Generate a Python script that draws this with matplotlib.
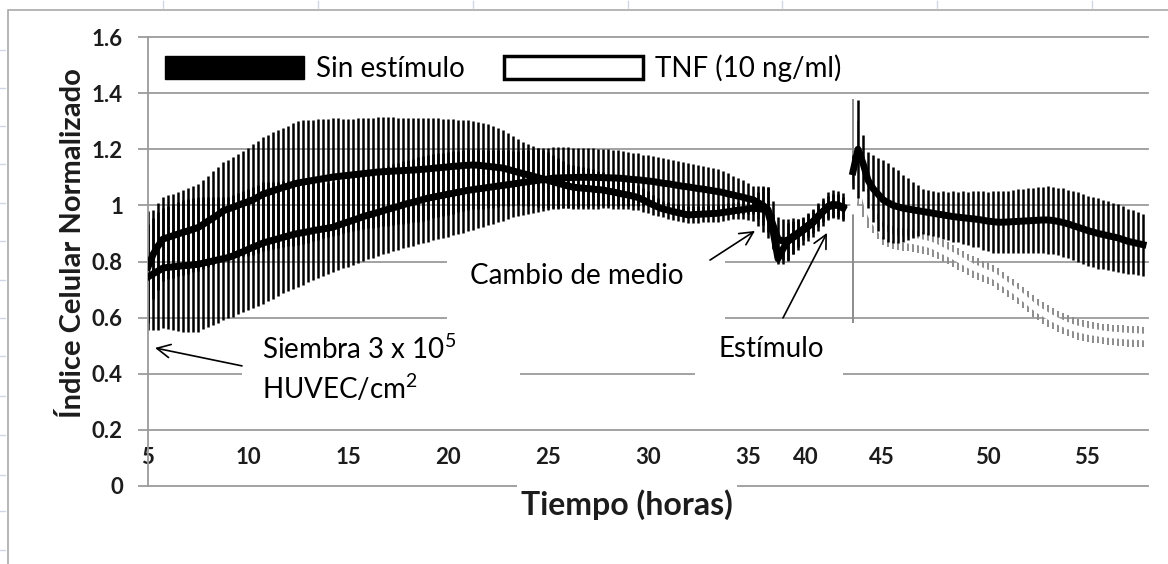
import numpy as np
import matplotlib
matplotlib.use("Agg")
import matplotlib.pyplot as plt
from matplotlib.patches import Rectangle, Patch
from matplotlib.lines import Line2D

plt.rcParams['font.family'] = ['Lato', 'DejaVu Sans']
plt.rcParams['mathtext.default'] = 'regular'

# ---------------- data ----------------
# measurement grid, hours (every 15 min)
t_pre = np.arange(5.0, 39.76, 0.25)
t_post = np.arange(40.25, 54.76, 0.25)

# before stimulus: two wells (both drawn black)
pre_a_mean = [0.78, 0.825, 0.855, 0.88, 0.886, 0.892, 0.898, 0.904, 0.909, 0.915, 0.921,
              0.932, 0.944, 0.955, 0.967, 0.98,
              0.987, 0.993, 1.0, 1.007, 1.013, 1.02,
              1.03, 1.04,
              1.046, 1.052, 1.058, 1.064, 1.069, 1.075, 1.08,
              1.083, 1.086, 1.089, 1.092, 1.095, 1.098, 1.101,
              1.103, 1.105, 1.107, 1.109, 1.111, 1.113, 1.115, 1.117, 1.119, 1.12,
              1.121, 1.122, 1.123, 1.124, 1.125, 1.126, 1.127, 1.129, 1.13,
              1.132, 1.134, 1.135, 1.137, 1.139, 1.14, 1.142, 1.143, 1.144,
              1.143, 1.141, 1.139, 1.137, 1.135, 1.133,
              1.128, 1.123, 1.118, 1.113, 1.109, 1.104, 1.099,
              1.094, 1.089, 1.084, 1.079, 1.074, 1.069, 1.065,
              1.063, 1.061, 1.06, 1.058, 1.056, 1.055,
              1.051, 1.048, 1.044, 1.04, 1.037, 1.033,
              1.028, 1.02, 1.011, 1.002, 0.994,
              0.987, 0.983, 0.978, 0.974, 0.97, 0.966,
              0.967, 0.968, 0.969, 0.97, 0.971, 0.972,
              0.975, 0.977, 0.98, 0.983, 0.985, 0.988, 0.99,
              0.988, 0.986, 0.975, 0.91, 0.81,
              0.845, 0.872, 0.885, 0.897, 0.91, 0.924, 0.938, 0.958, 0.977, 0.997, 1.004, 1.001, 0.994]
pre_a_sd = [0.20, 0.16, 0.155, 0.15, 0.15, 0.15, 0.15, 0.152, 0.153, 0.154, 0.155,
            0.158, 0.162, 0.166, 0.17, 0.173, 0.175,
            0.179, 0.184, 0.188, 0.193, 0.197, 0.2, 0.203,
            0.205, 0.208, 0.21, 0.213, 0.215, 0.218, 0.22,
            0.22, 0.219, 0.217, 0.215, 0.213, 0.211,
            0.209, 0.207, 0.204, 0.202, 0.2, 0.199, 0.198,
            0.197, 0.196, 0.195, 0.194, 0.193, 0.192, 0.19,
            0.189, 0.188, 0.187, 0.186, 0.183, 0.181,
            0.178, 0.176, 0.173, 0.171, 0.168, 0.165, 0.163, 0.16,
            0.158, 0.155, 0.153, 0.15, 0.145, 0.14, 0.134, 0.129, 0.124, 0.118,
            0.114, 0.111, 0.108, 0.105, 0.102, 0.1, 0.095,
            0.09, 0.085, 0.08, 0.078, 0.076, 0.074, 0.072, 0.07, 0.068, 0.065, 0.062, 0.06, 0.057,
            0.054, 0.051, 0.048, 0.045, 0.042, 0.039, 0.036,
            0.033, 0.03, 0.03, 0.03, 0.03, 0.03, 0.03,
            0.03, 0.03, 0.03, 0.03, 0.03, 0.03,
            0.03, 0.03, 0.03, 0.03, 0.035, 0.04, 0.045,
            0.06, 0.08, 0.09, 0.06, 0.02,
            0.04, 0.065, 0.06, 0.055, 0.05, 0.05, 0.05, 0.05, 0.05, 0.05, 0.05, 0.05, 0.05]
pre_b_mean = [0.745, 0.756, 0.766, 0.777, 0.779, 0.781, 0.783, 0.785, 0.786, 0.788, 0.79,
              0.794, 0.798, 0.802, 0.806, 0.81, 0.814,
              0.82, 0.828, 0.835, 0.843, 0.851, 0.858, 0.866,
              0.871, 0.876, 0.881, 0.886, 0.891, 0.896, 0.90,
              0.903, 0.906, 0.91, 0.913, 0.916, 0.919,
              0.922, 0.929, 0.935, 0.941, 0.947, 0.953, 0.96,
              0.965, 0.97, 0.975, 0.981, 0.986, 0.991, 0.996,
              1.002, 1.007, 1.011, 1.016, 1.021, 1.026,
              1.029, 1.033, 1.036, 1.04, 1.043, 1.047, 1.05, 1.054,
              1.056, 1.059, 1.061, 1.064, 1.066, 1.069, 1.071, 1.074, 1.076, 1.079,
              1.082, 1.084, 1.087, 1.089, 1.092, 1.094, 1.097,
              1.098, 1.098, 1.099, 1.099, 1.1, 1.1, 1.1, 1.1, 1.099, 1.099, 1.098, 1.098, 1.097,
              1.096, 1.094, 1.092, 1.091, 1.089, 1.087, 1.085,
              1.082, 1.079, 1.077, 1.074, 1.071, 1.068, 1.066,
              1.063, 1.06, 1.058, 1.055, 1.052, 1.049,
              1.046, 1.041, 1.037, 1.033, 1.029, 1.024, 1.02,
              1.01, 1.0, 0.985, 0.93, 0.88,
              0.872, 0.877, 0.89, 0.902, 0.915, 0.929, 0.943, 0.962, 0.979, 0.994, 1.0, 1.0, 0.99]
pre_b_sd = [0.19, 0.20, 0.21, 0.215, 0.22, 0.225, 0.23, 0.235, 0.238, 0.24, 0.24,
            0.236, 0.232, 0.228, 0.224, 0.22, 0.217,
            0.216, 0.216, 0.216, 0.216, 0.216, 0.216, 0.216,
            0.212, 0.208, 0.204, 0.2, 0.197, 0.193, 0.19,
            0.185, 0.18, 0.176, 0.171, 0.167, 0.162,
            0.16, 0.16, 0.159, 0.159, 0.158, 0.158, 0.158,
            0.157, 0.157, 0.156, 0.156, 0.156, 0.155, 0.155,
            0.155, 0.155, 0.155, 0.155, 0.155, 0.155,
            0.154, 0.153, 0.152, 0.151, 0.149, 0.148, 0.147, 0.146,
            0.144, 0.141, 0.138, 0.135, 0.132, 0.129, 0.126, 0.123, 0.119, 0.116,
            0.115, 0.115, 0.114, 0.114, 0.113, 0.112, 0.11,
            0.11, 0.109, 0.108, 0.107, 0.106, 0.106, 0.105, 0.104, 0.103, 0.102, 0.102, 0.101, 0.10,
            0.098, 0.097, 0.095, 0.094, 0.092, 0.091, 0.09,
            0.089, 0.089, 0.088, 0.087, 0.086, 0.086, 0.085,
            0.084, 0.083, 0.083, 0.082, 0.081, 0.08,
            0.077, 0.073, 0.069, 0.065, 0.06, 0.055, 0.05,
            0.06, 0.07, 0.08, 0.085, 0.08,
            0.08, 0.075, 0.065, 0.05, 0.04, 0.04, 0.04, 0.04, 0.04, 0.04, 0.04, 0.04, 0.04]

# after stimulus
sin_mean = [1.12, 1.20, 1.15, 1.09, 1.06, 1.04,
            1.02, 1.01, 1.0, 0.995, 0.99, 0.987,
            0.984, 0.981, 0.978, 0.975, 0.972, 0.969, 0.966, 0.963,
            0.96, 0.958, 0.956, 0.954, 0.952, 0.95, 0.947, 0.944, 0.942, 0.94,
            0.94, 0.941, 0.942, 0.943, 0.944, 0.945, 0.946, 0.947, 0.948, 0.948,
            0.946, 0.943, 0.939, 0.934, 0.928, 0.922, 0.916, 0.91, 0.905, 0.90,
            0.896, 0.892, 0.888, 0.884, 0.878, 0.872, 0.868, 0.864, 0.86]
sin_sd = [0.06, 0.175, 0.10, 0.10, 0.12, 0.13,
          0.14, 0.14, 0.135, 0.13, 0.12, 0.11,
          0.10, 0.09, 0.08, 0.08, 0.08, 0.08, 0.085, 0.085,
          0.09, 0.09, 0.095, 0.095, 0.10, 0.10, 0.105, 0.105, 0.11, 0.11,
          0.11, 0.112, 0.112, 0.114, 0.114, 0.116, 0.116, 0.118, 0.118, 0.12,
          0.12, 0.12, 0.122, 0.122, 0.124, 0.124, 0.125, 0.125, 0.125, 0.125,
          0.124, 0.123, 0.122, 0.12, 0.118, 0.116, 0.114, 0.112, 0.11]
tnf_mean = [0.98, 1.15, 1.06, 0.99, 0.95, 0.925,
            0.90, 0.89, 0.885, 0.88, 0.878, 0.876,
            0.874, 0.87, 0.866, 0.862, 0.856, 0.847, 0.838, 0.829,
            0.82, 0.81, 0.80, 0.79, 0.78, 0.773, 0.765, 0.758, 0.75, 0.738,
            0.725, 0.712, 0.70, 0.687, 0.672, 0.657, 0.642, 0.628, 0.617, 0.606,
            0.596, 0.587, 0.579, 0.571, 0.564, 0.559, 0.555, 0.551, 0.548, 0.545,
            0.542, 0.54, 0.538, 0.537, 0.535, 0.534, 0.533, 0.532, 0.531]
tnf_sd = [0.40, 0.15, 0.10, 0.07, 0.05, 0.045,
          0.042, 0.04, 0.04, 0.04, 0.04, 0.04,
          0.04, 0.04, 0.04, 0.04, 0.04, 0.039, 0.039, 0.039,
          0.039, 0.039, 0.038, 0.038, 0.038, 0.038, 0.038, 0.038, 0.038, 0.038,
          0.038, 0.038, 0.038, 0.038, 0.038, 0.038, 0.038, 0.038, 0.038, 0.038,
          0.038, 0.038, 0.038, 0.038, 0.038, 0.037, 0.037, 0.037, 0.037, 0.037,
          0.037, 0.037, 0.037, 0.037, 0.037, 0.037, 0.037, 0.037, 0.037]

x_tick_pos = [5, 10, 15, 20, 25, 30, 35, 37.9, 41.7, 47.0, 51.95]
x_tick_labels = ['5', '10', '15', '20', '25', '30', '35', '40', '45', '50', '55']
y_ticks = [0, 0.2, 0.4, 0.6, 0.8, 1.0, 1.2, 1.4, 1.6]
y_tick_labels = ['0', '0.2', '0.4', '0.6', '0.8', '1', '1.2', '1.4', '1.6']
legend_labels = ['Sin estímulo', 'TNF (10 ng/ml)']

assert len(pre_a_mean) == len(pre_a_sd) == len(pre_b_mean) == len(pre_b_sd) == len(t_pre)
assert len(sin_mean) == len(sin_sd) == len(tnf_mean) == len(tnf_sd) == len(t_post)

# ---------------- figure ----------------
GRID = '#9b9b9b'
TXT = '#1c1c1c'
BAR_W = 1.8

fig = plt.figure(figsize=(11.68, 5.64), dpi=100)
fig.patch.set_facecolor('white')

# outer chart-area frame and spreadsheet marks
fig.add_artist(Rectangle((8 / 1168, -0.2), 1.2, (564 - 10) / 564 + 0.2,
                         transform=fig.transFigure, fill=False, ec='#a9a9a9', lw=1.2))
for px in [163, 318, 473, 628, 782, 937, 1092]:
    fig.add_artist(Line2D([px / 1168, px / 1168], [1 - 1 / 564, 1 - 8 / 564],
                          transform=fig.transFigure, color='#cfd8e6', lw=1))
for py in [50, 88, 126, 164, 203, 241, 280, 318, 356, 396, 435, 475, 511, 550]:
    fig.add_artist(Line2D([0, 5 / 1168], [1 - py / 564, 1 - py / 564],
                          transform=fig.transFigure, color='#cfd8e6', lw=1))

ax = fig.add_axes([148 / 1168, 78 / 564, 1000 / 1168, 449 / 564])
ax.set_xlim(5, 55)
ax.set_ylim(0, 1.6)
ax.set_facecolor('none')

for v in y_ticks[1:]:
    ax.axhline(v, color=GRID, lw=1.3, zorder=0.6, clip_on=False)

# white text boxes that hide the gridlines (as in the original)
for (x0, y0, w, h) in [(19.95, 0.574, 13.9, 0.267),
                       (9.7, 0.235, 13.9, 0.321),
                       (32.35, 0.378, 7.4, 0.178)]:
    ax.add_patch(Rectangle((x0, y0), w, h, fc='white', ec='none', zorder=1))

# before stimulus
ax.errorbar(t_pre, pre_a_mean, yerr=pre_a_sd, fmt='none', ecolor='black',
            elinewidth=BAR_W, capsize=0, zorder=2)
ax.errorbar(t_pre, pre_b_mean, yerr=pre_b_sd, fmt='none', ecolor='black',
            elinewidth=BAR_W, capsize=0, zorder=2)
ax.plot(t_pre, pre_a_mean, color='black', lw=5, zorder=3)
ax.plot(t_pre, pre_b_mean, color='black', lw=5, zorder=3)

# after stimulus: TNF (white line, grey bars)
ax.errorbar(t_post, tnf_mean, yerr=tnf_sd, fmt='none', ecolor='#8c8c8c',
            elinewidth=1.4, capsize=0, zorder=2)
ax.plot(t_post, tnf_mean, color='white', lw=4.8, zorder=2.1)
# after stimulus: Sin estímulo (black)
ax.errorbar(t_post, sin_mean, yerr=sin_sd, fmt='none', ecolor='black',
            elinewidth=BAR_W, capsize=0, zorder=2.2)
ax.plot(t_post, sin_mean, color='black', lw=5, zorder=3)

# axes styling
ax.spines[['top', 'right']].set_visible(False)
for s in ['left', 'bottom']:
    ax.spines[s].set_color(GRID)
    ax.spines[s].set_linewidth(1.3)
ax.spines['bottom'].set_zorder(0.6)

ax.set_yticks(y_ticks, y_tick_labels, fontweight='bold')
ax.tick_params(axis='y', direction='out', length=7, width=1.3, color=GRID,
               pad=11, labelsize=16, labelcolor=TXT)
ax.set_xticks(x_tick_pos, x_tick_labels, fontweight='bold')
ax.tick_params(axis='x', length=0, pad=-28, labelsize=16, labelcolor=TXT)

ax.set_xlabel('Tiempo (horas)', fontsize=23, fontweight='bold', color=TXT,
              bbox=dict(fc='white', ec='none', pad=3))
ax.xaxis.set_label_coords(0.479, -0.008)
ax.set_ylabel('Índice Celular Normalizado', fontsize=21, fontweight='bold', color=TXT)
ax.yaxis.set_label_coords(-0.062, 0.541)

handles = [Patch(facecolor='black', edgecolor='black', linewidth=1),
           Patch(facecolor='white', edgecolor='black', linewidth=2.5)]
ax.legend(handles, legend_labels, loc='center left', bbox_to_anchor=(0.017, 0.931),
          ncol=2, frameon=False, fontsize=20, handlelength=5.0, handleheight=0.9,
          handletextpad=0.45, columnspacing=1.4, borderpad=0, borderaxespad=0)

# annotations
arrow = dict(arrowstyle='->', color='black', lw=1.2, mutation_scale=24,
             shrinkA=0, shrinkB=0)
ax.annotate('', xy=(5.35, 0.492), xytext=(9.7, 0.428), arrowprops=arrow, zorder=5)
ax.annotate('', xy=(35.35, 0.909), xytext=(33.1, 0.805), arrowprops=arrow, zorder=5)
ax.annotate('', xy=(38.95, 0.902), xytext=(36.75, 0.599), arrowprops=arrow, zorder=5)

ax.text(10.7, 0.485, 'Siembra 3 x 10$^{5}$', fontsize=20, ha='left', va='center', zorder=5)
ax.text(10.7, 0.349, 'HUVEC/cm$^{2}$', fontsize=20, ha='left', va='center', zorder=5)
ax.text(26.45, 0.748, 'Cambio de medio', fontsize=20, ha='center', va='center', zorder=5)
ax.text(36.15, 0.488, 'Estímulo', fontsize=20, ha='center', va='center', zorder=5)

fig.savefig('out.png', dpi=100)
